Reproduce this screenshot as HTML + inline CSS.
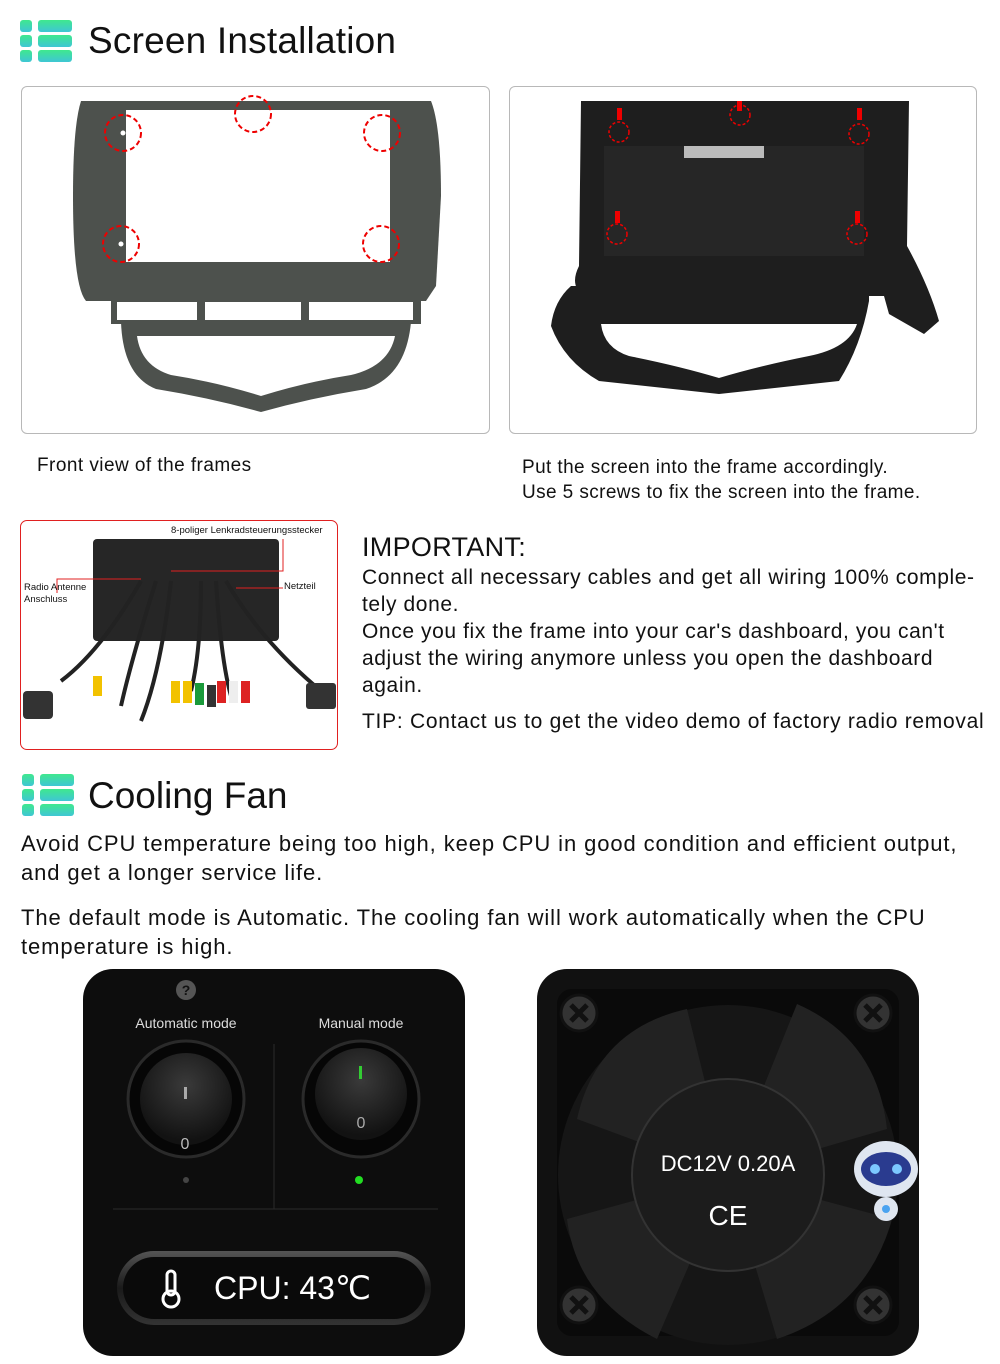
<!DOCTYPE html>
<html><head><meta charset="utf-8"><style>
*{margin:0;padding:0;box-sizing:border-box}
body{width:1000px;height:1364px;background:#fff;position:relative;overflow:hidden;font-family:"Liberation Sans",sans-serif;color:#111}
.a{position:absolute}
.t{white-space:nowrap}
</style></head><body>
<svg class="a" style="left:20px;top:20px" width="52" height="42">
<defs><linearGradient id="g1" x1="0" y1="0" x2="0" y2="1"><stop offset="0" stop-color="#3fe88e"/><stop offset="1" stop-color="#3fc6d4"/></linearGradient></defs>
<g fill="url(#g1)"><rect x="0" y="0" width="12" height="12" rx="3"/><rect x="18" y="0" width="34" height="12" rx="3"/><rect x="0" y="15" width="12" height="12" rx="3"/><rect x="18" y="15" width="34" height="12" rx="3"/><rect x="0" y="30" width="12" height="12" rx="3"/><rect x="18" y="30" width="34" height="12" rx="3"/></g></svg>
<div class="a t" style="left:88px;top:20px;font-size:37px;letter-spacing:0.2px">Screen Installation</div>

<div class="a" style="left:21px;top:86px;width:469px;height:348px;border:1px solid #b8b8b8;border-radius:6px"></div>
<svg class="a" style="left:21px;top:86px" width="469" height="348">
<path d="M60 15 L410 15 Q420 40 420 110 L415 200 L405 215 L65 215 Q52 200 52 110 Q52 40 60 15Z" fill="#4d514d"/>
<rect x="105" y="24" width="264" height="152" fill="#fff"/>
<path d="M90 212 L400 212 L400 238 L90 238Z" fill="#4d514d"/>
<rect x="96" y="216" width="80" height="18" fill="#fff"/><rect x="184" y="216" width="96" height="18" fill="#fff"/><rect x="288" y="216" width="104" height="18" fill="#fff"/>
<path fill-rule="evenodd" fill="#4d514d" d="M100 236 L390 236 Q385 290 345 303 Q290 312 240 326 Q190 312 135 303 Q102 290 100 236Z M116 250 L374 250 Q368 280 330 289 Q285 296 240 310 Q195 296 150 289 Q120 280 116 250Z"/>
<g fill="none" stroke="#e00" stroke-width="2" stroke-dasharray="5,3"><circle cx="102" cy="47" r="18"/><circle cx="232" cy="28" r="18"/><circle cx="361" cy="47" r="18"/><circle cx="100" cy="158" r="18"/><circle cx="360" cy="158" r="18"/></g>
<g fill="#fff"><circle cx="102" cy="47" r="2.5"/><circle cx="232" cy="28" r="2.5"/><circle cx="361" cy="47" r="2.5"/><circle cx="100" cy="158" r="2.5"/><circle cx="360" cy="158" r="2.5"/></g>
</svg>
<div class="a" style="left:509px;top:86px;width:468px;height:348px;border:1px solid #b8b8b8;border-radius:6px"></div>
<svg class="a" style="left:509px;top:86px" width="468" height="348">
<path d="M72 15 L400 15 L398 160 Q420 200 430 235 L415 248 L380 228 L375 210 L75 210 Q60 200 70 180Z" fill="#1e1e1e"/>
<rect x="95" y="60" width="260" height="110" fill="#262626"/>
<rect x="175" y="60" width="80" height="12" fill="#bbb"/>
<path d="M62 205 L360 205 L360 215 L62 215Z" fill="#1e1e1e"/>
<path fill-rule="evenodd" fill="#1e1e1e" d="M62 200 Q45 215 42 240 Q55 275 90 295 L210 308 L330 295 Q352 260 360 215 L360 200Z M92 238 L348 238 Q340 262 300 270 Q250 280 210 292 Q170 280 120 270 Q95 262 92 238Z"/>
<rect x="70" y="200" width="290" height="14" fill="#1e1e1e"/>
<g fill="#e00"><rect x="108" y="22" width="5" height="12"/><rect x="228" y="15" width="5" height="10"/><rect x="348" y="22" width="5" height="12"/><rect x="106" y="125" width="5" height="12"/><rect x="346" y="125" width="5" height="12"/></g>
<g fill="none" stroke="#e00" stroke-width="1.5" stroke-dasharray="3,2"><circle cx="110" cy="46" r="10"/><circle cx="231" cy="29" r="10"/><circle cx="350" cy="48" r="10"/><circle cx="108" cy="148" r="10"/><circle cx="348" cy="148" r="10"/></g>
</svg>
<div class="a t" style="left:37px;top:455px;font-size:19px;letter-spacing:0.45px">Front view of the frames</div>
<div class="a t" style="left:522px;top:455px;font-size:19px;line-height:25px;letter-spacing:0.4px">Put the screen into the frame accordingly.<br>Use 5 screws to fix the screen into the frame.</div>

<div class="a" style="left:20px;top:520px;width:318px;height:230px;border:1px solid #e02020;border-radius:7px;overflow:hidden">
<svg width="318" height="230">
<rect x="72" y="18" width="186" height="102" rx="4" fill="#262626"/>
<g stroke="#222" stroke-width="4" fill="none"><path d="M120 60 Q80 130 40 160"/><path d="M135 60 Q110 140 100 185"/><path d="M150 60 Q140 150 120 200"/><path d="M180 60 Q180 130 170 170"/><path d="M195 60 Q200 140 210 175"/><path d="M205 60 Q240 120 300 170"/></g>
<rect x="2" y="170" width="30" height="28" rx="4" fill="#333"/>
<rect x="285" y="162" width="30" height="26" rx="3" fill="#333"/>
<g><rect x="150" y="160" width="9" height="22" fill="#f2c200"/><rect x="162" y="160" width="9" height="22" fill="#f2c200"/><rect x="174" y="162" width="9" height="22" fill="#1a9a3a"/><rect x="186" y="164" width="9" height="22" fill="#333"/><rect x="196" y="160" width="9" height="22" fill="#d22"/><rect x="208" y="160" width="9" height="22" fill="#eee"/><rect x="220" y="160" width="9" height="22" fill="#d22"/><rect x="72" y="155" width="9" height="20" fill="#f2c200"/></g>
<g stroke="#e02020" stroke-width="1" fill="none"><path d="M36 72 V58 H120"/><path d="M150 50 H262 V18"/><path d="M215 67 H262"/></g>
</svg>
<div class="a t" style="left:150px;top:4px;font-size:9.5px">8-poliger Lenkradsteuerungsstecker</div>
<div class="a t" style="left:3px;top:61px;font-size:9.5px;line-height:12px">Radio Antenne<br>Anschluss</div>
<div class="a t" style="left:263px;top:60px;font-size:9.5px">Netzteil</div>
</div>

<div class="a t" style="left:362px;top:532px;font-size:27px;letter-spacing:0.3px">IMPORTANT:</div>
<div class="a t" style="left:362px;top:564px;font-size:21px;line-height:27px;letter-spacing:0.6px">Connect all necessary cables and get all wiring 100% comple-<br>tely done.<br>Once you fix the frame into your car's dashboard, you can't<br>adjust the wiring anymore unless you open the dashboard<br>again.</div>
<div class="a t" style="left:362px;top:710px;font-size:21px;letter-spacing:0.72px">TIP: Contact us to get the video demo of factory radio removal</div>

<svg class="a" style="left:22px;top:774px" width="52" height="42">
<g fill="url(#g1)"><rect x="0" y="0" width="12" height="12" rx="3"/><rect x="18" y="0" width="34" height="12" rx="3"/><rect x="0" y="15" width="12" height="12" rx="3"/><rect x="18" y="15" width="34" height="12" rx="3"/><rect x="0" y="30" width="12" height="12" rx="3"/><rect x="18" y="30" width="34" height="12" rx="3"/></g></svg>
<div class="a t" style="left:88px;top:775px;font-size:37px">Cooling Fan</div>
<div class="a t" style="left:21px;top:829px;font-size:22px;line-height:29px;letter-spacing:0.9px">Avoid CPU temperature being too high, keep CPU in good condition and efficient output,<br>and get a longer service life.</div>
<div class="a t" style="left:21px;top:903px;font-size:22px;line-height:29px;letter-spacing:0.9px">The default mode is Automatic. The cooling fan will work automatically when the CPU<br>temperature is high.</div>

<div class="a" style="left:83px;top:969px;width:382px;height:387px;background:#0d0d0d;border-radius:30px;overflow:hidden">
<svg width="382" height="387">
<defs><radialGradient id="kb" cx="0.5" cy="0.35" r="0.6"><stop offset="0" stop-color="#3a3a3a"/><stop offset="1" stop-color="#121212"/></radialGradient>
<linearGradient id="pill" x1="0" y1="0" x2="0" y2="1"><stop offset="0" stop-color="#555"/><stop offset="0.5" stop-color="#1a1a1a"/><stop offset="1" stop-color="#333"/></linearGradient></defs>
<circle cx="103" cy="21" r="10" fill="#555"/><text x="103" y="26" fill="#111" font-size="14" font-weight="bold" text-anchor="middle" font-family="Liberation Sans">?</text>
<text x="103" y="59" fill="#ddd" font-size="14" text-anchor="middle" font-family="Liberation Sans">Automatic mode</text>
<text x="278" y="59" fill="#ddd" font-size="14" text-anchor="middle" font-family="Liberation Sans">Manual mode</text>
<line x1="191" y1="75" x2="191" y2="240" stroke="#2a2a2a"/><line x1="30" y1="240" x2="355" y2="240" stroke="#2a2a2a"/>
<circle cx="103" cy="130" r="58" fill="#060606" stroke="#2a2a2a" stroke-width="3"/><circle cx="103" cy="130" r="46" fill="url(#kb)"/>
<rect x="101" y="118" width="3" height="12" fill="#aaa"/><text x="102" y="180" fill="#bbb" font-size="16" text-anchor="middle" font-family="Liberation Sans">0</text>
<circle cx="278" cy="130" r="58" fill="#060606" stroke="#2a2a2a" stroke-width="3"/><circle cx="278" cy="125" r="46" fill="url(#kb)"/>
<rect x="276" y="97" width="3" height="13" fill="#3c3"/><text x="278" y="159" fill="#aaa" font-size="16" text-anchor="middle" font-family="Liberation Sans">0</text>
<circle cx="103" cy="211" r="3" fill="#444"/><circle cx="276" cy="211" r="4" fill="#2d2"/>
<rect x="34" y="282" width="314" height="74" rx="37" fill="url(#pill)"/><rect x="40" y="288" width="302" height="62" rx="31" fill="#0a0a0a"/>
<rect x="84" y="302" width="8" height="24" rx="4" fill="none" stroke="#fff" stroke-width="3"/><circle cx="88" cy="330" r="8" fill="none" stroke="#fff" stroke-width="3"/>
<text x="131" y="330" fill="#fff" font-size="32" font-family="Liberation Sans">CPU: 43℃</text>
</svg></div>

<div class="a" style="left:537px;top:969px;width:382px;height:387px;background:#111;border-radius:30px;overflow:hidden">
<svg width="382" height="387">
<rect x="20" y="20" width="342" height="347" rx="15" fill="#0a0a0a"/>
<circle cx="191" cy="206" r="170" fill="#161616"/>
<g fill="#222"><path d="M191 206 L40 150 Q60 60 150 40Z"/><path d="M191 206 L260 35 Q340 70 350 160Z"/><path d="M191 206 L355 250 Q330 340 240 370Z"/><path d="M191 206 L120 370 Q40 330 30 250Z"/></g>
<circle cx="191" cy="206" r="96" fill="#1c1c1c" stroke="#333" stroke-width="2"/>
<text x="191" y="202" fill="#fff" font-size="22" text-anchor="middle" font-family="Liberation Sans">DC12V  0.20A</text>
<text x="191" y="256" fill="#fff" font-size="28" text-anchor="middle" font-family="Liberation Sans">CE</text>
<g fill="#333" stroke="#111" stroke-width="3"><circle cx="42" cy="44" r="18"/><circle cx="336" cy="44" r="18"/><circle cx="42" cy="336" r="18"/><circle cx="336" cy="336" r="18"/></g>
<g stroke="#111" stroke-width="5"><path d="M34 36 L50 52 M50 36 L34 52"/><path d="M328 36 L344 52 M344 36 L328 52"/><path d="M34 328 L50 344 M50 328 L34 344"/><path d="M328 328 L344 344 M344 328 L328 344"/></g>
<ellipse cx="349" cy="200" rx="32" ry="28" fill="#dfe6f0"/><ellipse cx="349" cy="200" rx="25" ry="17" fill="#2a3b8f"/>
<circle cx="338" cy="200" r="5" fill="#7cc8ff"/><circle cx="360" cy="200" r="5" fill="#7cc8ff"/>
<ellipse cx="349" cy="240" rx="12" ry="12" fill="#dfe6f0"/><circle cx="349" cy="240" r="4" fill="#4aa3f0"/>
</svg></div>
</body></html>
